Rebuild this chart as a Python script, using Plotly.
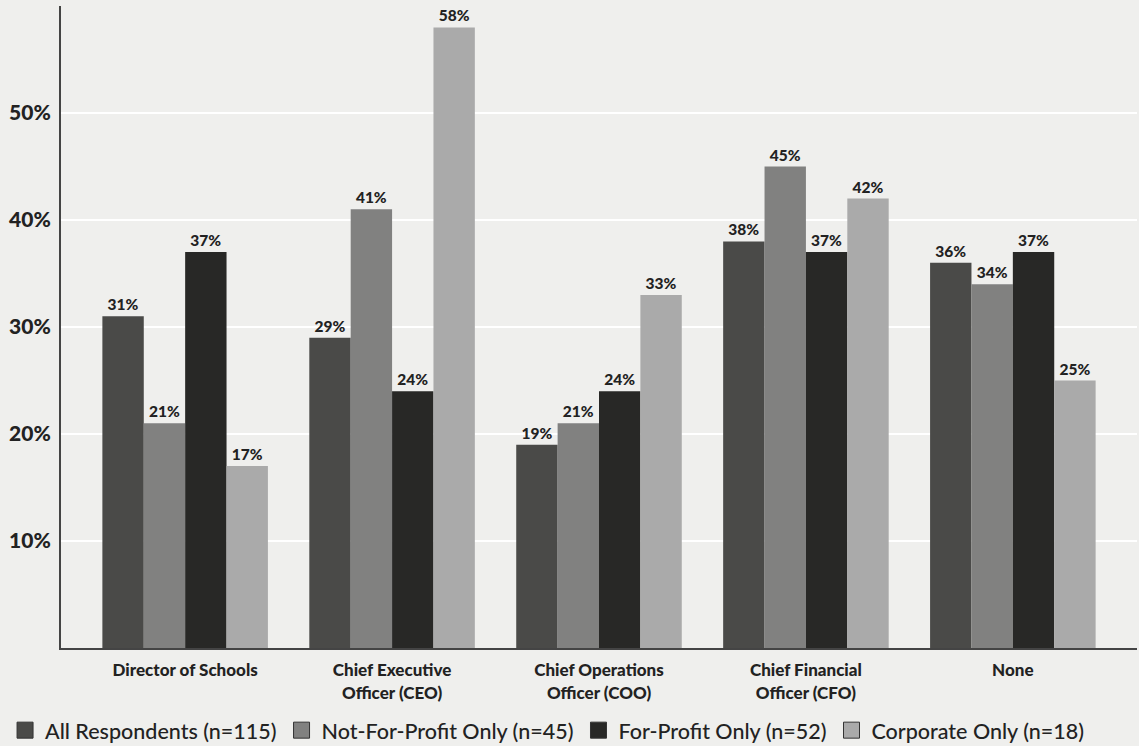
import plotly.graph_objects as go

categories = ["Director of Schools", "Chief Executive<br>Officer (CEO)",
              "Chief Operations<br>Officer (COO)", "Chief Financial<br>Officer (CFO)", "None"]
series_names = ["All Respondents (n=115)", "Not-For-Profit Only (n=45)",
                "For-Profit Only (n=52)", "Corporate Only (n=18)"]
all_resp = [31, 29, 19, 38, 36]
not_for_profit = [21, 41, 21, 45, 34]
for_profit = [37, 24, 24, 37, 37]
corporate = [17, 58, 33, 42, 25]
y_ticks = [10, 20, 30, 40, 50, 60]
y_tick_labels = ["10%", "20%", "30%", "40%", "50%", ""]

colors = ["#4a4a48", "#818180", "#282826", "#aaaaaa"]
series = [all_resp, not_for_profit, for_profit, corporate]

fig = go.Figure()
for name, vals, col in zip(series_names, series, colors):
    fig.add_trace(go.Bar(
        x=categories, y=vals, name=name, showlegend=False,
        marker=dict(color=col, line=dict(width=0)),
        text=[f"{v}%" for v in vals], textposition="outside",
        textfont=dict(family="Lato", size=15.5, color="#222222", weight=900),
        cliponaxis=False,
    ))

# legend entries drawn as large square swatches
for name, col in zip(series_names, colors):
    fig.add_trace(go.Scatter(
        x=[None], y=[None], mode="markers", name=name,
        marker=dict(symbol="square", size=20, color=col,
                    line=dict(color="#333333", width=1)),
    ))

fig.update_layout(
    width=1139, height=746,
    paper_bgcolor="#efefed", plot_bgcolor="#efefed",
    margin=dict(l=61, r=2, t=6, b=98, autoexpand=False),
    barmode="group", bargap=0.2, bargroupgap=0,
    font=dict(family="Lato", color="#222222"),
    legend=dict(orientation="h", x=-0.052, xanchor="left", y=-0.128, yanchor="middle",
                font=dict(family="Lato", size=21.5, color="#222222", weight=500),
                traceorder="normal", itemsizing="trace", tracegroupgap=0,
                bgcolor="rgba(0,0,0,0)"),
    showlegend=True,
)
fig.update_xaxes(range=[-0.6, 4.6], showline=True, linecolor="#444444", linewidth=2,
                 ticks="", tickfont=dict(family="Lato", size=17, color="#222222", weight=900),
                 showgrid=False, automargin=False, ticklabelstandoff=6)
fig.update_yaxes(range=[0, 60], tickvals=y_ticks, ticktext=y_tick_labels,
                 showline=True, linecolor="#444444", linewidth=2,
                 gridcolor="#ffffff", gridwidth=2, zeroline=False,
                 tickfont=dict(family="Lato", size=21, color="#222222", weight=900),
                 ticks="", ticklabelstandoff=4, automargin=False)

fig.write_html("out.html")
